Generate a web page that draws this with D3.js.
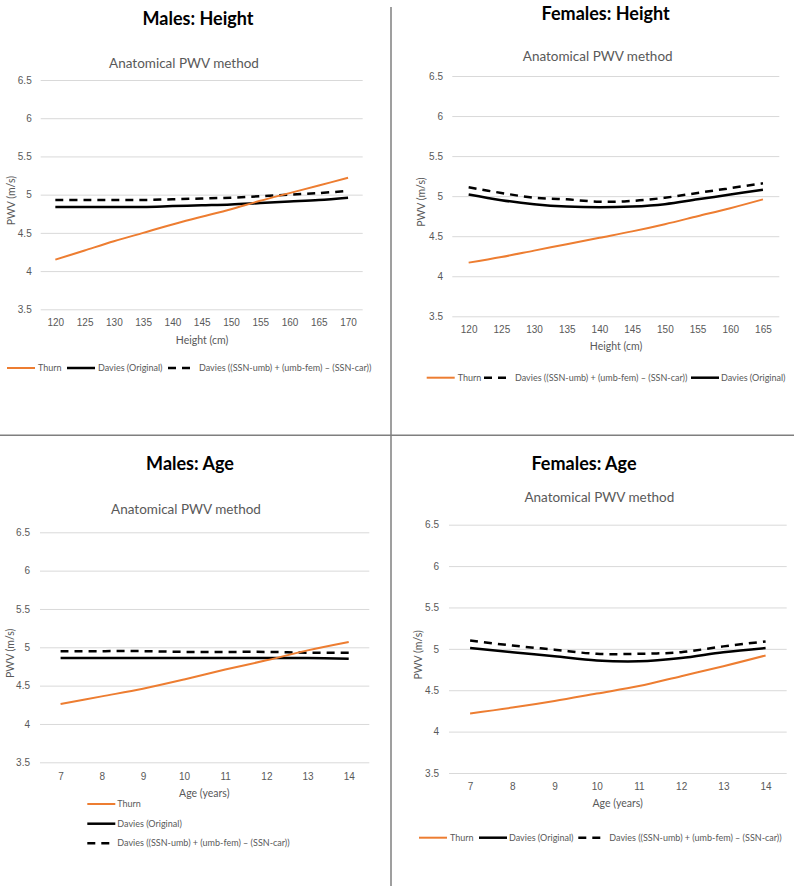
<!DOCTYPE html>
<html>
<head>
<meta charset="utf-8">
<script src="https://cdn.jsdelivr.net/npm/d3@7"></script>
<style>
  body { margin: 0; background: #fff; }
  svg { display: block; font-family: Lato, "Open Sans", sans-serif; }
</style>
</head>
<body>
<svg id="chart" width="796" height="886"></svg>
<script>
// categories
const heightMale = [120, 125, 130, 135, 140, 145, 150, 155, 160, 165, 170];
const heightFemale = [120, 125, 130, 135, 140, 145, 150, 155, 160, 165];
const ages = [7, 8, 9, 10, 11, 12, 13, 14];
const yTicks = [3.5, 4, 4.5, 5, 5.5, 6, 6.5];

// series values (PWV, m/s)
const maleHeightThurn = [4.15, 4.27, 4.39, 4.50, 4.61, 4.71, 4.81, 4.92, 5.02, 5.12, 5.22];
const maleHeightOriginal = [4.84, 4.84, 4.84, 4.84, 4.85, 4.86, 4.87, 4.89, 4.91, 4.93, 4.96];
const maleHeightSsn = [4.93, 4.93, 4.93, 4.93, 4.94, 4.95, 4.96, 4.98, 5.00, 5.02, 5.05];

const femaleHeightThurn = [4.17, 4.24, 4.32, 4.40, 4.48, 4.56, 4.65, 4.75, 4.85, 4.96];
const femaleHeightOriginal = [5.02, 4.95, 4.90, 4.87, 4.86, 4.87, 4.90, 4.96, 5.02, 5.08];
const femaleHeightSsn = [5.11, 5.04, 4.98, 4.96, 4.93, 4.94, 4.98, 5.04, 5.10, 5.16];

const maleAgeThurn = [4.26, 4.36, 4.46, 4.58, 4.71, 4.83, 4.96, 5.07];
const maleAgeOriginal = [4.86, 4.86, 4.86, 4.86, 4.86, 4.86, 4.86, 4.85];
const maleAgeSsn = [4.95, 4.95, 4.95, 4.94, 4.94, 4.94, 4.93, 4.93];

const femaleAgeThurn = [4.22, 4.29, 4.37, 4.46, 4.55, 4.67, 4.79, 4.92];
const femaleAgeOriginal = [5.01, 4.96, 4.91, 4.86, 4.85, 4.89, 4.96, 5.01];
const femaleAgeSsn = [5.10, 5.04, 4.99, 4.94, 4.94, 4.96, 5.03, 5.09];

const names = {
  thurn: 'Thurn',
  original: 'Davies (Original)',
  ssn: 'Davies ((SSN-umb) + (umb-fem) \u2013 (SSN-car))'
};
const styles = {
  thurn: { color: '#ED7D31', width: 2, dash: null, sample: 28 },
  original: { color: '#000', width: 2.5, dash: null, sample: 28 },
  ssn: { color: '#000', width: 2.5, dash: '8,6', sample: 22 }
};

const panels = [
  {
    title: 'Males: Height', tx: 198, ty: 19, sx: 184, sy: 63,
    x0: 40.7, x1: 362.7, yTop: 80, yBot: 309.3, yLabX: 31.7, xLabY: 322.7,
    xTitle: 'Height (cm)', xtx: 202, xty: 340, ytx: 11,
    cats: heightMale,
    series: { thurn: maleHeightThurn, original: maleHeightOriginal, ssn: maleHeightSsn },
    legend: [['thurn', 7, 368], ['original', 67, 368], ['ssn', 168, 368]], legendGap: [3, 3, 9]
  },
  {
    title: 'Females: Height', tx: 605.7, ty: 13.3, sx: 597.7, sy: 56.7,
    x0: 452.3, x1: 779.3, yTop: 76, yBot: 316.3, yLabX: 443, xLabY: 330,
    xTitle: 'Height (cm)', xtx: 616, xty: 346.7, ytx: 421.7,
    cats: heightFemale,
    series: { thurn: femaleHeightThurn, original: femaleHeightOriginal, ssn: femaleHeightSsn },
    legend: [['thurn', 426.7, 377.7], ['ssn', 484, 377.7], ['original', 691, 377.7]], legendGap: [3, 9, 2]
  },
  {
    title: 'Males: Age', tx: 190, ty: 463.3, sx: 186, sy: 509,
    x0: 40, x1: 369.3, yTop: 532.3, yBot: 762.3, yLabX: 30, xLabY: 776.7,
    xTitle: 'Age (years)', xtx: 204.3, xty: 793.3, ytx: 10,
    cats: ages,
    series: { thurn: maleAgeThurn, original: maleAgeOriginal, ssn: maleAgeSsn },
    legend: [['thurn', 87.3, 804], ['original', 87.3, 823.7], ['ssn', 87.3, 843.3]], legendGap: [2, 2, 8]
  },
  {
    title: 'Females: Age', tx: 584, ty: 463.3, sx: 599.3, sy: 497.7,
    x0: 449, x1: 786.7, yTop: 524.7, yBot: 773, yLabX: 439, xLabY: 786.7,
    xTitle: 'Age (years)', xtx: 617.7, xty: 803.3, ytx: 418.3,
    cats: ages,
    series: { thurn: femaleAgeThurn, original: femaleAgeOriginal, ssn: femaleAgeSsn },
    legend: [['thurn', 419, 837.7], ['original', 479, 837.7], ['ssn', 578.3, 837.7]], legendGap: [3, 2, 9]
  }
];

const svg = d3.select('#chart');

// panel dividers
svg.append('line').attr('x1', 391).attr('x2', 391).attr('y1', 7).attr('y2', 886)
  .attr('stroke', '#7f7f7f').attr('stroke-width', 1.5);
svg.append('line').attr('x1', 0).attr('x2', 794).attr('y1', 435.3).attr('y2', 435.3)
  .attr('stroke', '#7f7f7f').attr('stroke-width', 1.5);

panels.forEach((p) => {
  const g = svg.append('g');

  const x = d3.scalePoint().domain(p.cats).range([p.x0, p.x1]).padding(0.5);
  const y = d3.scaleLinear().domain([3.5, 6.5]).range([p.yBot, p.yTop]);

  // y axis + gridlines
  const yAxis = d3.axisLeft(y)
    .tickValues(yTicks)
    .tickFormat((d) => String(d))
    .tickSize(-(p.x1 - p.x0))
    .tickPadding(p.x0 - p.yLabX);
  const gy = g.append('g').attr('transform', `translate(${p.x0},0)`).call(yAxis);
  gy.select('.domain').remove();
  gy.selectAll('.tick line').attr('stroke', '#d9d9d9').attr('stroke-width', 1);
  gy.selectAll('.tick text').attr('fill', '#595959').attr('font-size', 10).attr('font-family', null);

  // x axis labels
  const xAxis = d3.axisBottom(x).tickSize(0);
  const gx = g.append('g').attr('transform', `translate(0,${p.yBot})`).call(xAxis);
  gx.select('.domain').remove();
  gx.selectAll('.tick text')
    .attr('y', p.xLabY - p.yBot).attr('dy', '0.35em')
    .attr('fill', '#595959').attr('font-size', 10).attr('font-family', null);

  // titles
  g.append('text').attr('x', p.tx).attr('y', p.ty).attr('dy', '0.35em')
    .attr('text-anchor', 'middle').attr('font-size', 18).attr('font-weight', 'bold')
    .attr('fill', '#000').text(p.title);
  g.append('text').attr('x', p.sx).attr('y', p.sy).attr('dy', '0.35em')
    .attr('text-anchor', 'middle').attr('font-size', 13.5)
    .attr('fill', '#595959').text('Anatomical PWV method');
  g.append('text').attr('x', p.xtx).attr('y', p.xty).attr('dy', '0.35em')
    .attr('text-anchor', 'middle').attr('font-size', 10.5)
    .attr('fill', '#595959').text(p.xTitle);
  const ymid = (p.yTop + p.yBot) / 2 + 6;
  g.append('text')
    .attr('transform', `translate(${p.ytx},${ymid}) rotate(-90)`)
    .attr('dy', '0.35em').attr('text-anchor', 'middle').attr('font-size', 10.5)
    .attr('fill', '#595959').text('PWV (m/s)');

  // lines
  const line = d3.line()
    .x((d, i) => x(p.cats[i]))
    .y((d) => y(d))
    .curve(d3.curveCatmullRom.alpha(0.5));

  ['original', 'ssn', 'thurn'].forEach((key) => {
    const s = styles[key];
    g.append('path')
      .datum(p.series[key])
      .attr('fill', 'none')
      .attr('stroke', s.color)
      .attr('stroke-width', s.width)
      .attr('stroke-dasharray', s.dash)
      .attr('d', line);
  });

  // legend
  p.legend.forEach(([key, lx, ly], i) => {
    const s = styles[key];
    g.append('line')
      .attr('x1', lx).attr('x2', lx + s.sample)
      .attr('y1', ly).attr('y2', ly)
      .attr('stroke', s.color).attr('stroke-width', s.width)
      .attr('stroke-dasharray', s.dash);
    g.append('text')
      .attr('x', lx + s.sample + p.legendGap[i]).attr('y', ly).attr('dy', '0.35em')
      .attr('font-size', 9).attr('fill', '#595959').text(names[key]);
  });
});
</script>
</body>
</html>
